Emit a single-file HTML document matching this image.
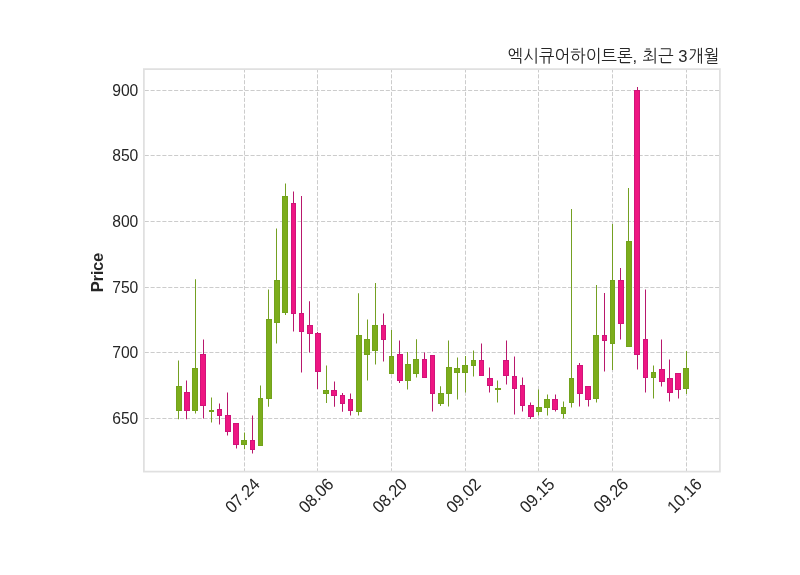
<!DOCTYPE html>
<html lang="ko"><head><meta charset="utf-8"><title>chart</title>
<style>html,body{margin:0;padding:0;background:#fff}body{width:800px;height:575px;overflow:hidden}svg{display:block}text{font-family:"Liberation Sans","NanumGothic","Noto Sans CJK KR",sans-serif;fill:#262626}</style></head><body>
<svg width="800" height="575" viewBox="0 0 800 575">
<rect width="800" height="575" fill="#fff"/>
<g stroke="#cccccc" stroke-width="1" stroke-dasharray="4.1 1.78" fill="none">
<line x1="244.50" y1="471.6" x2="244.50" y2="69.1" stroke-dashoffset="0.75"/>
<line x1="317.50" y1="471.6" x2="317.50" y2="69.1" stroke-dashoffset="0.75"/>
<line x1="391.50" y1="471.6" x2="391.50" y2="69.1" stroke-dashoffset="0.75"/>
<line x1="465.50" y1="471.6" x2="465.50" y2="69.1" stroke-dashoffset="0.75"/>
<line x1="538.50" y1="471.6" x2="538.50" y2="69.1" stroke-dashoffset="0.75"/>
<line x1="612.50" y1="471.6" x2="612.50" y2="69.1" stroke-dashoffset="0.75"/>
<line x1="686.50" y1="471.6" x2="686.50" y2="69.1" stroke-dashoffset="0.75"/>
<line x1="144.70000000000002" y1="418.50" x2="719.9" y2="418.50"/>
<line x1="144.70000000000002" y1="352.50" x2="719.9" y2="352.50"/>
<line x1="144.70000000000002" y1="287.50" x2="719.9" y2="287.50"/>
<line x1="144.70000000000002" y1="221.50" x2="719.9" y2="221.50"/>
<line x1="144.70000000000002" y1="155.50" x2="719.9" y2="155.50"/>
<line x1="144.70000000000002" y1="90.50" x2="719.9" y2="90.50"/>
</g>
<g stroke="#74a022" stroke-width="1"><line x1="178.5" y1="360.5" x2="178.5" y2="419.25"/><line x1="195.5" y1="279.25" x2="195.5" y2="413.5"/><line x1="211.5" y1="397.5" x2="211.5" y2="422.5"/><line x1="244.5" y1="432.5" x2="244.5" y2="449.25"/><line x1="260.5" y1="385.5" x2="260.5" y2="446.0"/><line x1="268.5" y1="289.5" x2="268.5" y2="406.75"/><line x1="276.5" y1="228.5" x2="276.5" y2="343.5"/><line x1="285.5" y1="183.5" x2="285.5" y2="315.0"/><line x1="326.5" y1="365.5" x2="326.5" y2="403.0"/><line x1="358.5" y1="293.25" x2="358.5" y2="415.5"/><line x1="367.5" y1="319.5" x2="367.5" y2="380.5"/><line x1="375.5" y1="283.0" x2="375.5" y2="364.5"/><line x1="391.5" y1="330.0" x2="391.5" y2="374.0"/><line x1="407.5" y1="352.0" x2="407.5" y2="389.5"/><line x1="416.5" y1="339.25" x2="416.5" y2="377.5"/><line x1="440.5" y1="386.25" x2="440.5" y2="406.0"/><line x1="448.5" y1="340.5" x2="448.5" y2="406.5"/><line x1="457.5" y1="357.5" x2="457.5" y2="399.5"/><line x1="465.5" y1="356.0" x2="465.5" y2="392.5"/><line x1="473.5" y1="350.5" x2="473.5" y2="376.5"/><line x1="497.5" y1="380.5" x2="497.5" y2="402.5"/><line x1="538.5" y1="389.5" x2="538.5" y2="415.5"/><line x1="547.5" y1="394.5" x2="547.5" y2="415.5"/><line x1="563.5" y1="401.5" x2="563.5" y2="418.5"/><line x1="571.5" y1="209.0" x2="571.5" y2="407.5"/><line x1="596.5" y1="285.0" x2="596.5" y2="402.5"/><line x1="612.5" y1="224.0" x2="612.5" y2="370.0"/><line x1="628.5" y1="188.0" x2="628.5" y2="347.0"/><line x1="653.5" y1="365.5" x2="653.5" y2="398.5"/><line x1="686.5" y1="351.0" x2="686.5" y2="394.0"/></g>
<g stroke="#b8186c" stroke-width="1"><line x1="186.5" y1="380.5" x2="186.5" y2="419.25"/><line x1="203.5" y1="339.5" x2="203.5" y2="418.5"/><line x1="219.5" y1="403.5" x2="219.5" y2="424.5"/><line x1="227.5" y1="392.5" x2="227.5" y2="435.5"/><line x1="236.5" y1="423.0" x2="236.5" y2="448.5"/><line x1="252.5" y1="415.5" x2="252.5" y2="453.5"/><line x1="293.5" y1="191.5" x2="293.5" y2="331.5"/><line x1="301.5" y1="196.0" x2="301.5" y2="372.5"/><line x1="309.5" y1="301.25" x2="309.5" y2="352.5"/><line x1="317.5" y1="332.0" x2="317.5" y2="389.0"/><line x1="334.5" y1="381.5" x2="334.5" y2="406.75"/><line x1="342.5" y1="393.0" x2="342.5" y2="411.75"/><line x1="350.5" y1="393.5" x2="350.5" y2="415.5"/><line x1="383.5" y1="313.5" x2="383.5" y2="361.5"/><line x1="399.5" y1="340.5" x2="399.5" y2="383.0"/><line x1="424.5" y1="352.5" x2="424.5" y2="378.0"/><line x1="432.5" y1="355.0" x2="432.5" y2="411.5"/><line x1="481.5" y1="343.5" x2="481.5" y2="376.0"/><line x1="489.5" y1="367.5" x2="489.5" y2="392.5"/><line x1="506.5" y1="340.5" x2="506.5" y2="384.5"/><line x1="514.5" y1="356.5" x2="514.5" y2="414.5"/><line x1="522.5" y1="377.5" x2="522.5" y2="411.5"/><line x1="530.5" y1="402.5" x2="530.5" y2="419.0"/><line x1="555.5" y1="394.5" x2="555.5" y2="411.5"/><line x1="579.5" y1="363.0" x2="579.5" y2="406.5"/><line x1="588.5" y1="386.0" x2="588.5" y2="406.5"/><line x1="604.5" y1="293.0" x2="604.5" y2="371.5"/><line x1="620.5" y1="268.0" x2="620.5" y2="339.5"/><line x1="637.5" y1="87.0" x2="637.5" y2="369.5"/><line x1="645.5" y1="289.5" x2="645.5" y2="392.5"/><line x1="661.5" y1="339.5" x2="661.5" y2="386.5"/><line x1="669.5" y1="359.5" x2="669.5" y2="401.5"/><line x1="678.5" y1="373.0" x2="678.5" y2="398.5"/></g>
<g fill="#7cad1c" stroke="#72a31c" stroke-width="1"><rect x="176.5" y="386.50" width="5" height="24.00"/><rect x="192.5" y="368.50" width="5" height="42.00"/><rect x="209.5" y="410.50" width="4" height="1.00"/><rect x="241.5" y="440.50" width="5" height="4.00"/><rect x="258.5" y="398.50" width="4" height="47.00"/><rect x="266.5" y="319.50" width="5" height="79.00"/><rect x="274.5" y="280.50" width="5" height="42.00"/><rect x="282.5" y="196.50" width="5" height="116.00"/><rect x="323.5" y="390.50" width="5" height="3.00"/><rect x="356.5" y="335.50" width="5" height="76.00"/><rect x="364.5" y="339.50" width="5" height="15.00"/><rect x="372.5" y="325.50" width="5" height="25.00"/><rect x="389.5" y="356.50" width="4" height="17.00"/><rect x="405.5" y="364.50" width="5" height="16.00"/><rect x="413.5" y="359.50" width="5" height="14.00"/><rect x="438.5" y="393.50" width="5" height="10.00"/><rect x="446.5" y="367.50" width="5" height="26.00"/><rect x="454.5" y="368.50" width="5" height="4.00"/><rect x="462.5" y="365.50" width="5" height="7.00"/><rect x="471.5" y="360.50" width="4" height="5.00"/><rect x="495.5" y="388.50" width="5" height="1.00"/><rect x="536.5" y="407.50" width="5" height="4.00"/><rect x="544.5" y="399.50" width="5" height="8.00"/><rect x="561.5" y="407.50" width="4" height="6.00"/><rect x="569.5" y="378.50" width="4" height="24.00"/><rect x="593.5" y="335.50" width="5" height="63.00"/><rect x="610.5" y="280.50" width="4" height="63.00"/><rect x="626.5" y="241.50" width="5" height="105.00"/><rect x="651.5" y="372.50" width="4" height="5.00"/><rect x="683.5" y="368.50" width="5" height="20.00"/></g>
<g fill="#ee1682" stroke="#d0147a" stroke-width="1"><rect x="184.5" y="392.50" width="5" height="18.00"/><rect x="200.5" y="354.50" width="5" height="51.00"/><rect x="217.5" y="409.50" width="4" height="6.00"/><rect x="225.5" y="415.50" width="5" height="16.00"/><rect x="233.5" y="423.50" width="5" height="21.00"/><rect x="250.5" y="440.50" width="4" height="9.00"/><rect x="291.5" y="203.50" width="4" height="110.00"/><rect x="299.5" y="313.50" width="4" height="18.00"/><rect x="307.5" y="325.50" width="5" height="8.00"/><rect x="315.5" y="333.50" width="5" height="38.00"/><rect x="331.5" y="390.50" width="5" height="5.00"/><rect x="340.5" y="395.50" width="4" height="8.00"/><rect x="348.5" y="399.50" width="4" height="11.00"/><rect x="381.5" y="325.50" width="4" height="14.00"/><rect x="397.5" y="354.50" width="5" height="26.00"/><rect x="422.5" y="359.50" width="4" height="18.00"/><rect x="430.5" y="355.50" width="4" height="38.00"/><rect x="479.5" y="360.50" width="4" height="15.00"/><rect x="487.5" y="378.50" width="5" height="7.00"/><rect x="503.5" y="360.50" width="5" height="15.00"/><rect x="512.5" y="376.50" width="4" height="12.00"/><rect x="520.5" y="385.50" width="4" height="20.00"/><rect x="528.5" y="405.50" width="5" height="11.00"/><rect x="552.5" y="399.50" width="5" height="10.00"/><rect x="577.5" y="365.50" width="5" height="28.00"/><rect x="585.5" y="386.50" width="5" height="13.00"/><rect x="602.5" y="335.50" width="4" height="5.00"/><rect x="618.5" y="280.50" width="5" height="43.00"/><rect x="634.5" y="90.50" width="5" height="264.00"/><rect x="643.5" y="339.50" width="4" height="38.00"/><rect x="659.5" y="369.50" width="5" height="12.00"/><rect x="667.5" y="378.50" width="5" height="14.00"/><rect x="675.5" y="373.50" width="5" height="16.00"/></g>
<rect x="143.9" y="69.1" width="576.0" height="402.5" fill="none" stroke="#e0e0e0" stroke-width="1.75"/>
<g font-size="16.67px" text-anchor="end">
<text transform="translate(138.3,423.80) scale(0.94,1.035)">650</text>
<text transform="translate(138.3,358.20) scale(0.94,1.035)">700</text>
<text transform="translate(138.3,292.60) scale(0.94,1.035)">750</text>
<text transform="translate(138.3,227.00) scale(0.94,1.035)">800</text>
<text transform="translate(138.3,161.40) scale(0.94,1.035)">850</text>
<text transform="translate(138.3,95.80) scale(0.94,1.035)">900</text>
</g>
<g font-size="16.67px" text-anchor="middle">
<text transform="translate(242.13,495.3) rotate(-45) scale(0.975,1.035)" x="0" y="6">07.24</text>
<text transform="translate(315.81,495.3) rotate(-45) scale(0.975,1.035)" x="0" y="6">08.06</text>
<text transform="translate(389.48,495.3) rotate(-45) scale(0.975,1.035)" x="0" y="6">08.20</text>
<text transform="translate(463.15,495.3) rotate(-45) scale(0.975,1.035)" x="0" y="6">09.02</text>
<text transform="translate(536.83,495.3) rotate(-45) scale(0.975,1.035)" x="0" y="6">09.15</text>
<text transform="translate(610.50,495.3) rotate(-45) scale(0.975,1.035)" x="0" y="6">09.26</text>
<text transform="translate(684.18,495.3) rotate(-45) scale(0.975,1.035)" x="0" y="6">10.16</text>
</g>
<text transform="translate(103.2,272.6) rotate(-90)" font-size="16.67px" font-weight="bold" text-anchor="middle" letter-spacing="-0.3">Price</text>
<text transform="translate(719.5,61.5) scale(0.998,1.035)" font-size="16.67px" text-anchor="end" style="font-family:'Liberation Sans','NanumGothic','Noto Sans CJK KR',sans-serif">엑시큐어하이트론,<tspan dx="0.45"> 최근 3</tspan><tspan dx="0.8">개월</tspan></text>
</svg></body></html>
